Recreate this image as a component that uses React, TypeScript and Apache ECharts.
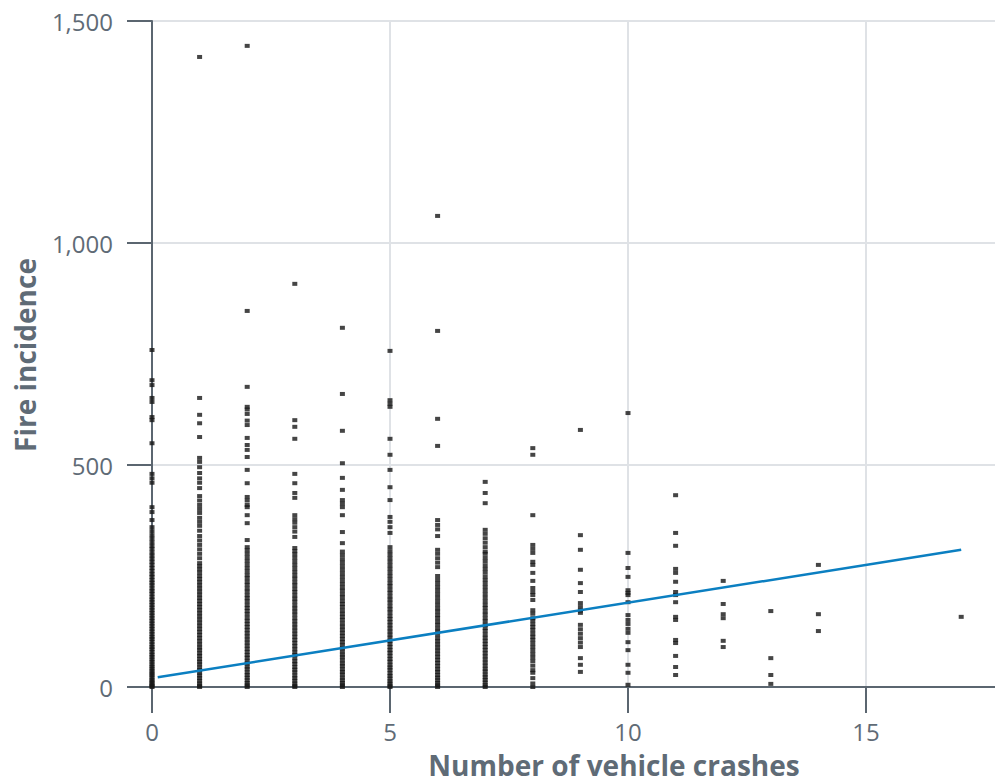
import React, { useEffect, useRef } from "react";
import * as echarts from "echarts";

const crashCounts = [0, 1, 2, 3, 4, 5, 6, 7, 8, 9, 10, 11, 12, 13, 14, 15, 16, 17];

const fire0 = [0, 2, 5, 9, 13, 17, 22, 27, 31, 36, 41, 46, 51, 57, 62, 68, 73, 79, 85, 90, 96, 102, 108, 113, 119, 125, 131, 137, 143, 149, 155, 161, 167, 173, 179, 185, 191, 197, 203, 210, 216, 222, 229, 235, 241, 248, 254, 261, 268, 275, 282, 289, 296, 303, 311, 318, 326, 334, 342, 351, 360, 376, 394, 405, 460, 470, 480, 549, 601, 608, 642, 651, 680, 691, 759];
const fire1 = [0, 3, 8, 14, 20, 26, 32, 38, 44, 51, 57, 63, 70, 76, 83, 89, 96, 103, 110, 117, 124, 131, 138, 145, 152, 159, 166, 173, 180, 187, 194, 201, 208, 215, 222, 229, 236, 243, 250, 258, 265, 272, 279, 290, 300, 310, 320, 330, 340, 352, 363, 372, 381, 392, 401, 410, 420, 430, 448, 460, 470, 482, 495, 507, 516, 563, 594, 613, 651, 1419];
const fire2 = [0, 4, 9, 15, 21, 27, 33, 40, 46, 53, 59, 66, 72, 79, 86, 93, 100, 107, 114, 121, 128, 135, 142, 149, 156, 164, 171, 178, 185, 193, 200, 207, 215, 222, 230, 237, 245, 252, 260, 268, 276, 284, 292, 300, 308, 315, 331, 369, 387, 405, 410, 420, 428, 459, 489, 518, 534, 545, 561, 590, 600, 615, 625, 631, 676, 847, 1444];
const fire3 = [0, 3, 8, 14, 20, 26, 33, 39, 45, 52, 58, 65, 72, 78, 85, 92, 99, 106, 113, 120, 127, 134, 141, 148, 155, 163, 170, 177, 184, 192, 199, 206, 214, 221, 229, 236, 244, 251, 259, 267, 275, 283, 291, 299, 306, 313, 338, 350, 360, 370, 378, 387, 426, 437, 459, 480, 559, 586, 601, 908];
const fire4 = [0, 4, 9, 15, 21, 28, 34, 40, 47, 53, 60, 67, 73, 80, 87, 94, 101, 108, 115, 122, 129, 136, 143, 151, 158, 165, 172, 180, 187, 194, 202, 209, 217, 224, 232, 240, 248, 256, 264, 272, 280, 288, 297, 305, 324, 349, 387, 405, 413, 421, 444, 471, 504, 577, 660, 809];
const fire5 = [0, 3, 8, 13, 19, 25, 31, 38, 44, 50, 57, 63, 70, 77, 83, 90, 97, 104, 111, 118, 125, 132, 139, 146, 153, 160, 168, 175, 182, 190, 197, 204, 212, 219, 227, 234, 242, 250, 258, 266, 274, 282, 290, 298, 306, 315, 347, 360, 372, 383, 421, 450, 489, 523, 559, 631, 638, 646, 757];
const fire6 = [0, 4, 9, 15, 21, 27, 34, 40, 47, 54, 61, 68, 75, 82, 89, 96, 103, 110, 118, 125, 132, 140, 147, 155, 162, 170, 177, 185, 193, 201, 209, 217, 225, 233, 241, 250, 270, 280, 290, 300, 309, 340, 355, 365, 376, 543, 604, 802, 1061];
const fire7 = [0, 4, 10, 16, 22, 28, 35, 41, 48, 55, 62, 69, 76, 83, 90, 97, 104, 111, 118, 126, 133, 140, 148, 155, 163, 170, 178, 185, 193, 201, 209, 217, 225, 233, 241, 249, 258, 266, 274, 283, 291, 300, 305, 315, 325, 335, 345, 354, 414, 437, 462];
const fire8 = [0, 8, 20, 32, 38, 48, 58, 66, 74, 82, 90, 98, 106, 113, 120, 128, 135, 142, 150, 155, 165, 173, 196, 207, 214, 223, 239, 257, 275, 282, 302, 311, 320, 387, 523, 538];
const fire9 = [34, 50, 65, 90, 100, 110, 120, 130, 140, 167, 172, 180, 189, 214, 234, 264, 309, 342, 579];
const fire10 = [5, 32, 50, 83, 101, 122, 131, 142, 151, 162, 191, 207, 212, 218, 248, 268, 302, 617];
const fire11 = [27, 45, 70, 99, 106, 151, 158, 191, 207, 214, 237, 257, 266, 318, 347, 432];
const fire12 = [90, 104, 155, 164, 187, 239];
const fire13 = [7, 27, 65, 171];
const fire14 = [126, 164, 275];
const fire15: number[] = [];
const fire16: number[] = [];
const fire17 = [158];

const fireByCrashes = [fire0, fire1, fire2, fire3, fire4, fire5, fire6, fire7, fire8, fire9, fire10, fire11, fire12, fire13, fire14, fire15, fire16, fire17];

// Fitted trend line end points
const trendX = [0.12, 17];
const trendY = [22, 309];

const xTicks = [0, 5, 10, 15];

export default function App() {
  const ref = useRef<HTMLDivElement>(null);

  useEffect(() => {
    if (!ref.current) return;
    const chart = echarts.init(ref.current, null, { renderer: "svg" });

    const points: number[][] = [];
    crashCounts.forEach((c, i) => {
      fireByCrashes[i].forEach((v) => points.push([c, v]));
    });

    const axisColor = "#5b6670";
    const labelColor = "#5f6b76";
    const gridColor = "#dfe2e6";
    const font = "'Open Sans', 'Noto Sans', sans-serif";

    chart.setOption({
      animation: false,
      backgroundColor: "#ffffff",
      textStyle: { fontFamily: font },
      grid: { left: 152, right: 0, top: 21, bottom: 97, containLabel: false },
      xAxis: {
        type: "value",
        min: 0,
        max: 17.71,
        interval: 5,
        axisLine: { show: true, onZero: false, lineStyle: { color: axisColor, width: 2 } },
        axisTick: { show: true, length: 26, customValues: xTicks, lineStyle: { color: axisColor, width: 2 } },
        axisLabel: {
          customValues: xTicks,
          margin: 32,
          color: labelColor,
          fontSize: 24,
          fontFamily: font,
        },
        splitLine: { show: true, lineStyle: { color: gridColor, width: 2 } },
      },
      yAxis: {
        type: "value",
        min: 0,
        max: 1500,
        interval: 500,
        axisLine: { show: true, lineStyle: { color: axisColor, width: 2 } },
        axisTick: { show: true, length: 25, lineStyle: { color: axisColor, width: 2 } },
        axisLabel: {
          margin: 39,
          color: labelColor,
          fontSize: 24,
          fontFamily: font,
          formatter: (v: number) => v.toLocaleString("en-US"),
        },
        splitLine: { show: true, lineStyle: { color: gridColor, width: 2 } },
      },
      graphic: [
        {
          type: "text",
          x: 614,
          y: 765,
          style: {
            text: "Number of vehicle crashes",
            fill: labelColor,
            font: `bold 28px ${font}`,
            textAlign: "center",
            textVerticalAlign: "middle",
          },
        },
        {
          type: "text",
          x: 25,
          y: 355,
          rotation: Math.PI / 2,
          style: {
            text: "Fire incidence",
            fill: labelColor,
            font: `bold 28px ${font}`,
            textAlign: "center",
            textVerticalAlign: "middle",
          },
        },
      ],
      series: [
        {
          type: "scatter",
          data: points,
          symbol: "rect",
          symbolSize: [5, 4],
          itemStyle: { color: "#161616", opacity: 0.8 },
          clip: false,
        },
        {
          type: "line",
          data: trendX.map((x, i) => [x, trendY[i]]),
          symbol: "none",
          lineStyle: { color: "#0b7fc1", width: 2.5 },
          z: 5,
        },
      ],
    });

    return () => chart.dispose();
  }, []);

  return (
    <div
      ref={ref}
      style={{ position: "fixed", left: 0, top: 0, width: 995, height: 784 }}
    />
  );
}
